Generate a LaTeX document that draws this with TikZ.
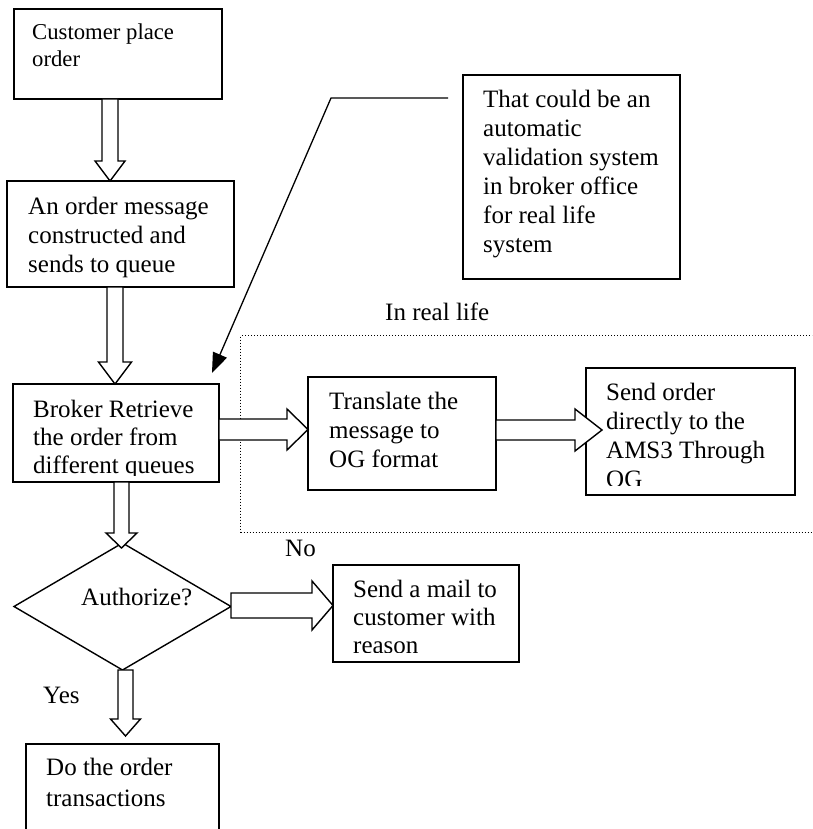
\documentclass[tikz,border=0pt]{standalone}
\usepackage{fontspec}
\setmainfont{Liberation Serif}
\usetikzlibrary{calc,arrows.meta,shapes.geometric}

% multi-line box text whose first baseline sits on the node's base anchor
\newcommand{\boxlines}[1]{\parbox[t]{320pt}{\raggedright #1}}

\begin{document}
\begin{tikzpicture}[x=1pt,y=-1pt,
  bshaft/.store in=\bshaft, bhead/.store in=\bhead, blen/.store in=\blen,
  bshaft=8pt, bhead=15pt, blen=20pt,
  box/.style={draw, line width=1.4pt, rectangle, anchor=north west,
    inner sep=0pt, outer sep=0pt},
  txt/.style={anchor=base west, inner sep=0pt,
    font=\fontsize{25pt}{29pt}\selectfont},
  blockdown/.style={draw, fill=white, line width=1.4pt, line join=miter,
    to path={let \p1=(\tikztostart), \p2=(\tikztotarget) in
      (\x1-\bshaft,\y1) -- (\x1-\bshaft,\y2+\blen) -- (\x1-\bhead,\y2+\blen)
      -- (\x1,\y2) -- (\x1+\bhead,\y2+\blen) -- (\x1+\bshaft,\y2+\blen)
      -- (\x1+\bshaft,\y1) -- cycle}},
  blockright/.style={draw, fill=white, line width=1.4pt, line join=miter,
    to path={let \p1=(\tikztostart), \p2=(\tikztotarget) in
      (\x1,\y1+\bshaft) -- (\x2-\blen,\y1+\bshaft) -- (\x2-\blen,\y1+\bhead)
      -- (\x2,\y1) -- (\x2-\blen,\y1-\bhead) -- (\x2-\blen,\y1-\bshaft)
      -- (\x1,\y1-\bshaft) -- cycle}}
]
\useasboundingbox (0,0) rectangle (812,829);
\clip (0,0) rectangle (812,829);

% "In real life" region
\node[draw, line width=1pt, dash pattern=on 1pt off 2pt, rectangle,
  anchor=north west, inner sep=0pt, minimum width=600pt, minimum height=197pt]
  (real) at (240,335) {};
\node[txt] (reallbl) at (385,320) {In real life};

% boxes
\node[box, minimum width=208pt, minimum height=90pt]  (b1)   at (14,9) {};
\node[box, minimum width=227pt, minimum height=106pt] (b2)   at (7,181) {};
\node[box, minimum width=206pt, minimum height=98pt]  (b3)   at (13,384) {};
\node[box, minimum width=217pt, minimum height=204pt] (note) at (463,75) {};
\node[box, minimum width=188pt, minimum height=113pt] (tr)   at (308,377) {};
\node[box, minimum width=209pt, minimum height=127pt] (send) at (586,368) {};
\node[box, minimum width=186pt, minimum height=97pt]  (mail) at (333,565) {};
\node[box, minimum width=193pt, minimum height=120pt] (do)   at (26,744) {};
\node[draw, diamond, line width=1.4pt, minimum width=217pt,
  minimum height=127pt, inner sep=0pt, outer sep=0pt] (dia) at (122.5,606.5) {};

% texts
\node[txt, font=\fontsize{22.7pt}{27pt}\selectfont] (t1) at (32,40)
  {\boxlines{Customer place\\order}};
\node[txt] (t2) at (28,214) {\boxlines{An order message\\constructed and\\sends to queue}};
\begin{scope}
  \clip (13,384) rectangle (219,475);
  \node[txt, font=\fontsize{25pt}{28pt}\selectfont] (t3) at (33,417)
    {\boxlines{Broker Retrieve\\the order from\\different queues}};
\end{scope}
\node[txt] (tnote) at (483,108)
  {\boxlines{That could be an\\automatic\\validation system\\in broker office\\for real life\\system}};
\node[txt] (ttr) at (329,409) {\boxlines{Translate the\\message to\\OG format}};
\begin{scope}
  \clip (586,368) rectangle (795,485);
  \node[txt] (tsend) at (606,400) {\boxlines{Send order\\directly to the\\AMS3 Through\\OG}};
\end{scope}
\begin{scope}
  \clip (333,565) rectangle (519,652);
  \node[txt, font=\fontsize{25pt}{28pt}\selectfont] (tmail) at (353,597)
    {\boxlines{Send a mail to\\customer with\\reason}};
\end{scope}
\node[txt, font=\fontsize{25pt}{31pt}\selectfont] (tdo) at (46,775)
  {\boxlines{Do the order\\transactions}};
\node[txt] (tauth) at (81,605) {Authorize?};
\node[txt] (tno) at (285,556) {No};
\node[txt] (tyes) at (43,703) {Yes};

% block arrows
\draw[blockdown, bshaft=8pt, bhead=15pt, blen=20pt]
  ([xshift=-8pt]b1.south) to (b2.north);
\draw[blockdown, bshaft=8pt, bhead=16.5pt, blen=22pt]
  ([xshift=-5.5pt]b2.south) to (b3.north);
\draw[blockdown, bshaft=7.5pt, bhead=15.5pt, blen=15pt]
  ([xshift=5.5pt]b3.south) to ([yshift=-5pt]dia.north);
\draw[blockdown, bshaft=7.5pt, bhead=15pt, blen=17pt]
  ([xshift=3pt]dia.south) to ([yshift=8pt]do.north);
\draw[blockright, bshaft=10.5pt, bhead=20.5pt, blen=21pt]
  ([yshift=3.5pt]b3.east) to (tr.west);
\draw[blockright, bshaft=10pt, bhead=21pt, blen=27pt]
  ([yshift=3.5pt]tr.east) to ([xshift=16pt]send.west);
\draw[blockright, bshaft=12.5pt, bhead=24.5pt, blen=21pt]
  ([yshift=1pt]dia.east) to (mail.west);

% callout leader
\coordinate (cstart) at (448,98);
\coordinate (cbend) at (331,98);
\coordinate (ctip) at (212,373);
\draw[line width=1.3pt, -{Triangle[length=20pt,width=15pt]}]
  (cstart) -- (cbend) -- (ctip);
\end{tikzpicture}
\end{document}
